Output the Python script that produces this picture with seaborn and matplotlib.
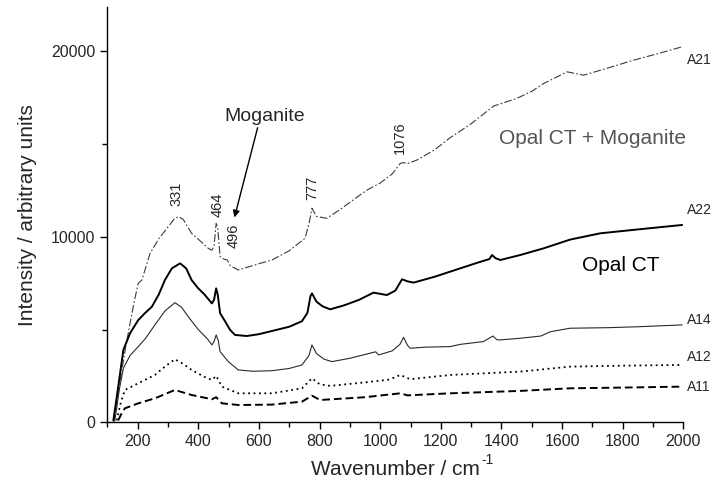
import numpy as np
import pandas as pd
import seaborn as sns
import matplotlib.pyplot as plt
from matplotlib.ticker import MultipleLocator

# Espectros Raman (número de onda, intensidade)
v_wn_a21 = [122, 135, 148, 160, 175, 190, 202, 214, 241, 270, 301, 320, 334, 350, 378, 405, 433, 445, 452,
            459, 464, 472, 484, 496, 505, 532, 560, 600, 643, 700, 752, 765, 775, 790, 824, 870, 920, 956,
            1000, 1040, 1066, 1076, 1090, 1121, 1180, 1231, 1300, 1374, 1451, 1500, 1539, 1580, 1616, 1671,
            1750, 1836, 1920, 1996]
v_int_a21 = [0, 1500, 2820, 4000, 5340, 6600, 7490, 7670, 9110, 9900, 10545, 10950, 11085, 10950, 10190, 9800,
             9380, 9280, 9500, 10730, 10500, 8930, 8800, 8750, 8450, 8210, 8350, 8550, 8750, 9250, 9920, 10700,
             11540, 11100, 11000, 11500, 12100, 12520, 12900, 13400, 13960, 14000, 13950, 14140, 14700, 15350,
             16100, 17050, 17470, 17850, 18270, 18600, 18900, 18720, 19100, 19530, 19900, 20250]

v_wn_a22 = [120, 135, 153, 175, 202, 225, 247, 270, 290, 313, 340, 360, 378, 400, 420, 445, 452, 459, 464,
            472, 490, 505, 521, 560, 600, 650, 700, 742, 760, 770, 775, 790, 810, 835, 880, 930, 978, 1022,
            1050, 1072, 1090, 1110, 1180, 1264, 1320, 1360, 1369, 1380, 1396, 1462, 1539, 1626, 1726, 1850, 1996]
v_int_a22 = [100, 1800, 3900, 4800, 5510, 5900, 6230, 6900, 7670, 8300, 8570, 8300, 7670, 7220, 6900, 6410,
             6600, 7220, 6900, 5880, 5400, 4980, 4710, 4650, 4750, 4950, 5150, 5450, 5900, 6800, 6950, 6500,
             6250, 6090, 6300, 6600, 6990, 6860, 7100, 7710, 7600, 7530, 7850, 8300, 8600, 8800, 9020, 8850,
             8750, 9020, 9380, 9850, 10190, 10400, 10640]

v_wn_a14 = [125, 140, 153, 175, 202, 225, 257, 290, 323, 345, 367, 400, 430, 445, 452, 459, 466, 472, 499,
            532, 580, 643, 700, 742, 765, 775, 790, 815, 841, 900, 973, 985, 995, 1040, 1065, 1077, 1090, 1099,
            1150, 1231, 1264, 1340, 1372, 1385, 1396, 1462, 1530, 1561, 1626, 1750, 1850, 1996]
v_int_a14 = [100, 1800, 2910, 3600, 4080, 4500, 5250, 6000, 6450, 6200, 5690, 5000, 4500, 4170, 4350, 4710,
             4400, 3810, 3270, 2820, 2750, 2780, 2900, 3090, 3600, 4170, 3700, 3400, 3270, 3450, 3750, 3800,
             3630, 3850, 4200, 4580, 4150, 3990, 4050, 4080, 4200, 4350, 4650, 4450, 4440, 4530, 4650, 4880,
             5070, 5100, 5150, 5250]

v_wn_a12 = [131, 145, 158, 202, 257, 290, 323, 350, 378, 420, 445, 459, 478, 532, 643, 742, 775, 800, 835,
            950, 1030, 1066, 1099, 1231, 1462, 1626, 1800, 1996]
v_int_a12 = [100, 1100, 1740, 2100, 2550, 3000, 3400, 3150, 2820, 2450, 2280, 2500, 1920, 1560, 1560, 1830,
             2370, 2050, 1960, 2150, 2300, 2550, 2320, 2550, 2730, 3000, 3050, 3090]

v_wn_a11 = [136, 148, 158, 202, 257, 323, 378, 445, 459, 478, 532, 642, 742, 775, 802, 950, 1066, 1090,
            1231, 1462, 1626, 1800, 1996]
v_int_a11 = [100, 500, 750, 1020, 1290, 1740, 1470, 1240, 1350, 1020, 930, 950, 1110, 1430, 1200, 1350,
             1560, 1450, 1560, 1690, 1830, 1870, 1920]

v_amostras = ['A21', 'A22', 'A14', 'A12', 'A11']
v_wn = [v_wn_a21, v_wn_a22, v_wn_a14, v_wn_a12, v_wn_a11]
v_int = [v_int_a21, v_int_a22, v_int_a14, v_int_a12, v_int_a11]

# posição dos rótulos das amostras (y) à direita
v_rotulo_y = [19530, 11440, 5510, 3520, 1900]

# picos anotados
v_picos = ['331', '464', '496', '777', '1076']
v_picos_x = [327, 465, 518, 776, 1066]
v_picos_y = [12310, 11720, 10050, 12630, 15330]

df_espectros = pd.concat([
    pd.DataFrame({'Amostra': a, 'Wavenumber': w, 'Intensity': i})
    for a, w, i in zip(v_amostras, v_wn, v_int)
], ignore_index=True)

# Estilo
sns.set_theme(style='ticks')
plt.rcParams['font.family'] = ['Liberation Sans', 'DejaVu Sans']

v_estilos = {
    'A21': dict(color='#3c3c3c', lw=0.8, linestyle=(0, (7, 2, 1.5, 2))),
    'A22': dict(color='black', lw=1.4, linestyle='-'),
    'A14': dict(color='#2a2a2a', lw=0.8, linestyle='-'),
    'A12': dict(color='black', lw=1.3, linestyle=(0, (1, 2))),
    'A11': dict(color='black', lw=1.4, linestyle=(0, (4, 2))),
}

fig = plt.figure(figsize=(7.13, 4.95), dpi=100)
ax = fig.add_axes([0.1505, 0.147, 0.808, 0.839])

for v_amostra in v_amostras:
    sns.lineplot(data=df_espectros[df_espectros['Amostra'] == v_amostra], x='Wavenumber', y='Intensity',
                 ax=ax, sort=False, estimator=None, legend=False, **v_estilos[v_amostra])

for v_amostra, v_y in zip(v_amostras, v_rotulo_y):
    ax.text(2013, v_y, v_amostra, fontsize=10, va='center', ha='left', clip_on=False)

for v_txt, v_x, v_y in zip(v_picos, v_picos_x, v_picos_y):
    ax.text(v_x, v_y, v_txt, rotation=90, fontsize=10.5, ha='center', va='center')

ax.text(618, 16500, 'Moganite', fontsize=14, ha='center', va='center')
ax.annotate('', xy=(517, 10900), xytext=(598, 16030),
            arrowprops=dict(arrowstyle='-|>', color='black', lw=1, mutation_scale=10))
ax.text(1700, 15330, 'Opal CT + Moganite', fontsize=15, color='#555555', ha='center', va='center')
ax.text(1792, 8430, 'Opal CT', fontsize=15, color='black', ha='center', va='center')

ax.set_xlim(100, 2000)
ax.set_ylim(0, 22400)
ax.xaxis.set_major_locator(MultipleLocator(200))
ax.xaxis.set_minor_locator(MultipleLocator(100))
ax.yaxis.set_major_locator(MultipleLocator(10000))
ax.yaxis.set_minor_locator(MultipleLocator(5000))
ax.tick_params(which='major', direction='out', length=5, width=1, labelsize=11.5, color='black')
ax.tick_params(which='minor', direction='out', length=3.5, width=1, color='black')

sns.despine(ax=ax)
for v_lado in ['left', 'bottom']:
    ax.spines[v_lado].set_linewidth(1.0)
    ax.spines[v_lado].set_color('black')

# rótulo do eixo x com expoente "-1" com hífen simples
v_xlabel = ax.set_xlabel('Wavenumber / cm', fontsize=15, labelpad=8)
ax.annotate('-1', xy=(1, 1), xycoords=v_xlabel, xytext=(1, 0), textcoords='offset points',
            fontsize=10, ha='left', va='center')
ax.set_ylabel('Intensity / arbitrary units', fontsize=15, labelpad=10)

plt.savefig('out.png', dpi=100)
